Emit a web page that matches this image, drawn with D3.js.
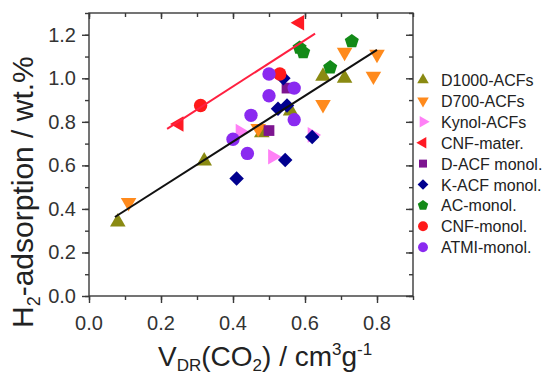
<!DOCTYPE html>
<html><head><meta charset="utf-8">
<script src="https://cdn.jsdelivr.net/npm/d3@7"></script>
<style>
html,body{margin:0;padding:0;background:#fff;}
svg{display:block;font-family:"Liberation Sans",Arial,sans-serif;}
</style></head>
<body><svg id="chart" width="551" height="376"></svg>
<script>
// ---- data ----
const categories = ["D1000-ACFs","D700-ACFs","Kynol-ACFs","CNF-mater.","D-ACF monol.","K-ACF monol.","AC-monol.","CNF-monol.","ATMI-monol."];
const d1000X = [0.08, 0.32, 0.48, 0.56, 0.65, 0.71];
const d1000Y = [0.34, 0.62, 0.75, 0.85, 1.01, 1.00];
const d700X  = [0.11, 0.47, 0.65, 0.71, 0.79, 0.80];
const d700Y  = [0.43, 0.77, 0.88, 1.12, 1.01, 1.11];
const kynolX = [0.42, 0.51, 0.62];
const kynolY = [0.755, 0.64, 0.74];
const cnfMatX = [0.25, 0.585];
const cnfMatY = [0.79, 1.255];
const dacfX = [0.50, 0.55];
const dacfY = [0.76, 0.955];
const kacfX = [0.41, 0.545, 0.62, 0.525, 0.55, 0.54];
const kacfY = [0.54, 0.625, 0.73, 0.86, 0.875, 1.00];
const acX = [0.585, 0.595, 0.67, 0.73];
const acY = [1.14, 1.12, 1.05, 1.17];
const cnfMonX = [0.31, 0.53];
const cnfMonY = [0.875, 1.02];
const atmiX = [0.40, 0.44, 0.45, 0.50, 0.50, 0.57, 0.57];
const atmiY = [0.72, 0.655, 0.83, 0.92, 1.02, 0.955, 0.81];
const blackFitX = [0.072, 0.80];
const blackFitY = [0.363, 1.131];
const redFitX = [0.217, 0.628];
const redFitY = [0.768, 1.205];
const xTicks = [0.0, 0.2, 0.4, 0.6, 0.8];
const yTicks = [0.0, 0.2, 0.4, 0.6, 0.8, 1.0, 1.2];

// ---- styles ----
const colors = ["#8a8a12","#ff8a1c","#ff80f6","#ff1a24","#7d1590","#00008f","#138a18","#ff1a1a","#8a2af0"];
const pentagon = {draw(ctx,size){const r=Math.sqrt(size/(2.5*Math.sin(2*Math.PI/5)));for(let i=0;i<5;i++){const a=-Math.PI/2+i*2*Math.PI/5;const x=r*Math.cos(a),y=r*Math.sin(a);if(i===0)ctx.moveTo(x,y);else ctx.lineTo(x,y);}ctx.closePath();}};
// [symbolType, rotation, size]
const shapes = [
  [d3.symbolTriangle,0,105],[d3.symbolTriangle,180,105],[d3.symbolTriangle,90,105],[d3.symbolTriangle,-90,105],
  [d3.symbolSquare,0,115],[d3.symbolSquare,45,105],[pentagon,0,130],[d3.symbolCircle,0,140],[d3.symbolCircle,0,140]
];
const seriesX = [d1000X,d700X,kynolX,cnfMatX,dacfX,kacfX,acX,cnfMonX,atmiX];
const seriesY = [d1000Y,d700Y,kynolY,cnfMatY,dacfY,kacfY,acY,cnfMonY,atmiY];

const svg = d3.select("#chart");
const L=89, R=413, T=13, B=296;
const x = d3.scaleLinear().domain([0,0.9]).range([L,R]);
const y = d3.scaleLinear().domain([0,1.3]).range([B,T]);
const axisCol = "#3a3a3a";

// frame
svg.append("rect").attr("x",L).attr("y",T).attr("width",R-L).attr("height",B-T)
  .attr("fill","none").attr("stroke",axisCol).attr("stroke-width",1.4);

const xMinor = d3.range(0,0.91,0.1), yMinor = d3.range(0,1.31,0.1);
function addAxis(axis, tr, major, minor, len, mlen){
  const g1 = svg.append("g").attr("transform",tr).call(axis().tickValues(major).tickSize(len).tickFormat(""));
  const g2 = svg.append("g").attr("transform",tr).call(axis().tickValues(minor).tickSize(mlen).tickFormat(""));
  [g1,g2].forEach(g=>{g.select(".domain").remove();g.selectAll("line").attr("stroke",axisCol).attr("stroke-width",1.4);});
}
addAxis(()=>d3.axisBottom(x),`translate(0,${B})`,xTicks,xMinor,7,4);
addAxis(()=>d3.axisTop(x),`translate(0,${T})`,xTicks,xMinor,-6,-4);
addAxis(()=>d3.axisLeft(y),`translate(${L},0)`,yTicks,yMinor,7,4);
addAxis(()=>d3.axisRight(y),`translate(${R},0)`,yTicks,yMinor,-7,-4);

// tick labels
const fmt = d3.format(".1f");
svg.append("g").selectAll("text").data(xTicks).join("text")
  .attr("x",d=>x(d)).attr("y",330).attr("text-anchor","middle")
  .attr("font-size",20).attr("fill","#333").text(fmt);
svg.append("g").selectAll("text").data(yTicks).join("text")
  .attr("x",76).attr("y",d=>y(d)+7).attr("text-anchor","end")
  .attr("font-size",20).attr("fill","#333").text(fmt);

// markers
const plot = svg.append("g");
seriesX.forEach((xs,i)=>{
  const [type,rot,size] = shapes[i];
  const sym = d3.symbol().type(type).size(size);
  plot.append("g").selectAll("path").data(xs.map((v,j)=>[v,seriesY[i][j]])).join("path")
    .attr("d",sym).attr("fill",colors[i])
    .attr("transform",d=>`translate(${x(d[0])},${y(d[1])}) rotate(${rot})`);
});

// fit lines
const line = d3.line().x(d=>x(d[0])).y(d=>y(d[1]));
svg.append("path").attr("d",line(blackFitX.map((v,i)=>[v,blackFitY[i]])))
  .attr("stroke","#111").attr("stroke-width",2).attr("fill","none");
svg.append("path").attr("d",line(redFitX.map((v,i)=>[v,redFitY[i]])))
  .attr("stroke","#ff2040").attr("stroke-width",2).attr("fill","none");

// legend
const lg = svg.append("g");
categories.forEach((c,i)=>{
  const yy = 80 + i*20.9;
  const [type,rot,size] = shapes[i];
  lg.append("path").attr("d",d3.symbol().type(type).size(size*0.55)())
    .attr("fill",colors[i]).attr("transform",`translate(423,${yy}) rotate(${rot})`);
  lg.append("text").attr("x",441).attr("y",yy+6).attr("font-size",16).attr("fill","#222").text(c);
});

// x title
const xt = svg.append("text").attr("x",158).attr("y",366).attr("font-size",28).attr("fill","#222");
xt.append("tspan").text("V");
xt.append("tspan").attr("font-size",17).attr("dy",5).text("DR");
xt.append("tspan").attr("dy",-5).text("(CO");
xt.append("tspan").attr("font-size",17).attr("dy",5).text("2");
xt.append("tspan").attr("dy",-5).text(") / cm");
xt.append("tspan").attr("font-size",17).attr("dy",-11).text("3");
xt.append("tspan").attr("dy",11).text("g");
xt.append("tspan").attr("font-size",17).attr("dy",-11).text("-1");

// y title
const yt = svg.append("text").attr("transform","translate(33,328) rotate(-90)")
  .attr("font-size",30).attr("fill","#222");
yt.append("tspan").text("H");
yt.append("tspan").attr("font-size",18).attr("dy",7).text("2");
yt.append("tspan").attr("dy",-7).text("-adsorption / wt.%");
</script></body></html>
